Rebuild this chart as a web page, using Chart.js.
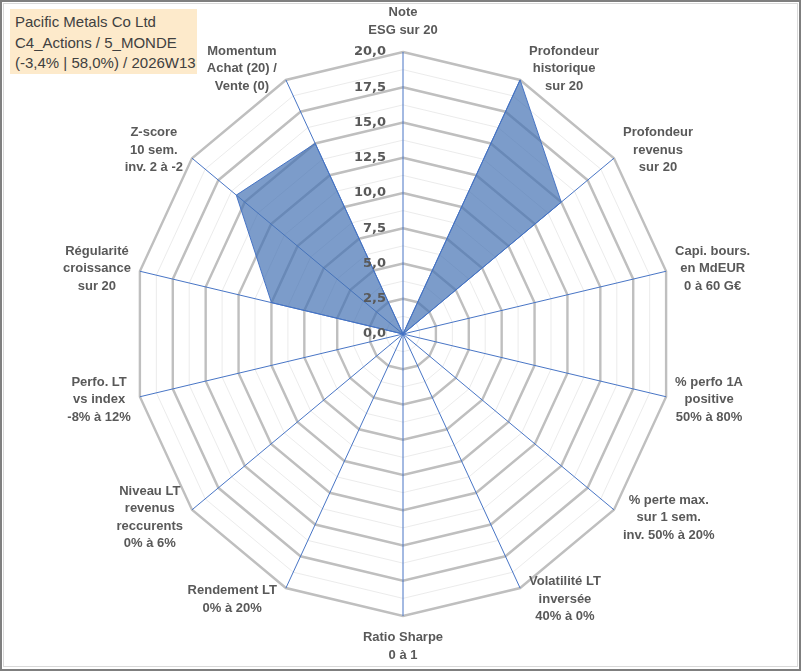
<!DOCTYPE html>
<html lang="fr">
<head>
  <meta charset="UTF-8">
  <title>Pacific Metals Co Ltd - radar</title>
  <script src="https://cdn.jsdelivr.net/npm/chart.js"></script>
  <style>
    body {
      margin: 0;
      background: #fff;
    }
    #wrap {
      position: relative;
      width: 801px;
      height: 671px;
      overflow: hidden;
    }
    #chart {
      position: absolute;
      left: 0;
      top: 0;
    }
    .frame-out {
      position: absolute;
      left: 0; top: 0;
      width: 801px; height: 671px;
      box-sizing: border-box;
      border: 2px solid #7f7f7f;
      pointer-events: none;
    }
    .frame-in {
      position: absolute;
      left: 3px; top: 3px;
      width: 795px; height: 664px;
      box-sizing: border-box;
      border: 1px solid #d9d9d9;
      pointer-events: none;
    }
    #title {
      position: absolute;
      left: 10px;
      top: 9px;
      width: 182px;
      height: 62px;
      padding: 3px 0 0 5px;
      background: #fdeacb;
      color: #404040;
      font: 15px "Liberation Sans", Arial, sans-serif;
      line-height: 20.5px;
      white-space: nowrap;
    }
  </style>
</head>
<body>
  <div id="wrap">
    <canvas id="chart" width="801" height="671"></canvas>
    <div class="frame-out"></div>
    <div class="frame-in"></div>
    <div id="title">
      Pacific Metals Co Ltd<br>
      C4_Actions / 5_MONDE<br>
      (-3,4% | 58,0%) / 2026W13
    </div>
  </div>

  <script>
    // axes du radar (libellés sur plusieurs lignes)
    const categories = [
      ['Note', 'ESG sur 20'],
      ['Profondeur', 'historique', 'sur 20'],
      ['Profondeur', 'revenus', 'sur 20'],
      ['Capi. bours.', 'en MdEUR', '0 à 60 G€'],
      ['% perfo 1A', 'positive', '50% à 80%'],
      ['% perte max.', 'sur 1 sem.', 'inv. 50% à 20%'],
      ['Volatilité LT', 'inversée', '40% à 0%'],
      ['Ratio Sharpe', '0 à 1'],
      ['Rendement LT', '0% à 20%'],
      ['Niveau LT', 'revenus', 'reccurents', '0% à 6%'],
      ['Perfo. LT', 'vs index', '-8% à 12%'],
      ['Régularité', 'croissance', 'sur 20'],
      ['Z-score', '10 sem.', 'inv. 2 à -2'],
      ['Momentum', 'Achat (20) /', 'Vente (0)']
    ];

    // notes sur 20
    const scores = [0, 20, 15, 0, 0, 0, 0, 0, 0, 0, 0, 10, 15.8, 15];

    const tickValues = [0, 2.5, 5, 7.5, 10, 12.5, 15, 17.5, 20];
    const tickLabels = ['0,0', '2,5', '5,0', '7,5', '10,0', '12,5', '15,0', '17,5', '20,0'];

    const SQUEEZE = 0.957;   // le radar Excel est un peu plus étroit que haut
    const LINE_H = 17.5;
    const LABEL_FONT = 'bold 13px "Liberation Sans", Arial, sans-serif';
    const TICK_FONT = 'bold 13px "DejaVu Sans", Verdana, sans-serif';
    const TEXT_COLOR = '#595959';

    function drawTickLabels(chart) {
      const s = chart.scales.r;
      const ctx = chart.ctx;
      ctx.save();
      ctx.font = TICK_FONT;
      ctx.fillStyle = TEXT_COLOR;
      ctx.textAlign = 'right';
      ctx.textBaseline = 'middle';
      tickValues.forEach((v, i) => {
        const y = s.yCenter - s.getDistanceFromCenterForValue(v);
        ctx.fillText(tickLabels[i], s.xCenter - 17, y);
      });
      ctx.restore();
    }

    function drawPointLabels(chart) {
      const s = chart.scales.r;
      const ctx = chart.ctx;
      const R = s.getDistanceFromCenterForValue(s.max);
      ctx.save();
      ctx.font = LABEL_FONT;
      ctx.fillStyle = TEXT_COLOR;
      ctx.textAlign = 'center';
      ctx.textBaseline = 'middle';
      categories.forEach((lines, i) => {
        const p = s.getPointPosition(i, R);
        const vx = s.xCenter + (p.x - s.xCenter) * SQUEEZE;
        const vy = p.y;
        const a = s.getIndexAngle(i);
        const sin = Math.sin(a), cos = Math.cos(a);
        const w = Math.max(...lines.map(t => ctx.measureText(t).width));
        const h = lines.length * LINE_H;
        let cx, cy;
        if (Math.abs(sin) < 0.01) {
          cx = vx;
          cy = vy - Math.sign(cos) * (h / 2 + 13);
        } else {
          cx = vx + Math.sign(sin) * (w / 2 + 9);
          cy = vy - cos * 12.5;
        }
        lines.forEach((t, k) => {
          ctx.fillText(t, cx, cy - h / 2 + LINE_H * (k + 0.5));
        });
      });
      ctx.restore();
    }

    const squeezePlugin = {
      id: 'squeeze',
      beforeDraw(chart) {
        const s = chart.scales.r;
        const ctx = chart.ctx;
        ctx.save();
        ctx.translate(s.xCenter, 0);
        ctx.scale(SQUEEZE, 1);
        ctx.translate(-s.xCenter, 0);
      },
      afterDraw(chart) {
        chart.ctx.restore();
        drawTickLabels(chart);
        drawPointLabels(chart);
      }
    };

    const radarChart = new Chart(document.getElementById('chart'), {
      type: 'radar',
      data: {
        labels: categories,
        datasets: [{
          data: scores,
          backgroundColor: 'rgba(68, 114, 180, 0.7)',
          borderColor: '#4472c4',
          borderWidth: 1,
          pointRadius: 0,
          fill: true
        }]
      },
      options: {
        responsive: false,
        animation: false,
        devicePixelRatio: 1,
        layout: {
          padding: { left: 121, right: 116, top: 52, bottom: 55 }
        },
        plugins: {
          legend: { display: false },
          tooltip: { enabled: false }
        },
        scales: {
          r: {
            min: 0,
            max: 20,
            ticks: { display: false, stepSize: 1.25 },
            pointLabels: { display: false },
            angleLines: { color: '#4472c4', lineWidth: 1 },
            grid: {
              color: c => (c.tick && c.tick.value % 2.5 === 0) ? '#bfbfbf' : '#ebebeb',
              lineWidth: c => (c.tick && c.tick.value % 2.5 === 0) ? 2.5 : 1
            }
          }
        }
      },
      plugins: [squeezePlugin]
    });
  </script>
</body>
</html>
